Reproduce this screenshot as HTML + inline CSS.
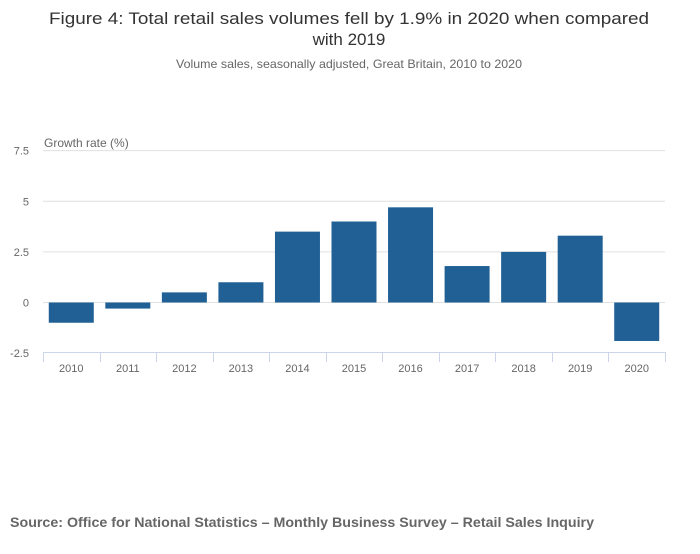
<!DOCTYPE html>
<html><head><meta charset="utf-8"><style>
body{margin:0;background:#fff;width:700px;height:549px;overflow:hidden;font-family:"Liberation Sans",sans-serif;}
</style></head><body>
<svg width="700" height="549" xmlns="http://www.w3.org/2000/svg">
<text x="349" y="24" text-anchor="middle" font-size="17" fill="#333" textLength="600" lengthAdjust="spacingAndGlyphs">Figure 4: Total retail sales volumes fell by 1.9% in 2020 when compared</text>
<text x="349" y="45" text-anchor="middle" font-size="17" fill="#333">with 2019</text>
<text x="349" y="68" text-anchor="middle" font-size="12" fill="#666" textLength="346" lengthAdjust="spacingAndGlyphs">Volume sales, seasonally adjusted, Great Britain, 2010 to 2020</text>
<text x="44" y="147" font-size="12" fill="#666">Growth rate (%)</text>
<g id="grid"></g><g id="bars"></g><g id="xaxis"></g>
<text x="10" y="527" font-size="14" font-weight="bold" fill="#666" textLength="584" lengthAdjust="spacingAndGlyphs">Source: Office for National Statistics – Monthly Business Survey – Retail Sales Inquiry</text>
</svg>
<script>
const categories=["2010","2011","2012","2013","2014","2015","2016","2017","2018","2019","2020"];
const values=[-1.0,-0.3,0.5,1.0,3.5,4.0,4.7,1.8,2.5,3.3,-1.9];
const yTicks=[-2.5,0,2.5,5,7.5];
const yTickLabels=["-2.5","0","2.5","5","7.5"];
const NS="http://www.w3.org/2000/svg";
const x0=43,x1=665,yZero=302.5,pxPerUnit=20.25;
const y=v=>yZero-v*pxPerUnit;
const band=(x1-x0)/categories.length;
function mk(tag,attrs,parent){const e=document.createElementNS(NS,tag);for(const k in attrs)e.setAttribute(k,attrs[k]);parent.appendChild(e);return e;}
const grid=document.getElementById('grid'),bars=document.getElementById('bars'),xa=document.getElementById('xaxis');
yTicks.forEach((t,i)=>{
  if(t!==-2.5){const l=mk('line',{x1:x0,x2:x1,y1:y(t),y2:y(t),stroke:'#e0e0e0','stroke-width':1},grid);
  
  }
  const tx=mk('text',{x:29,y:y(t)+4,'text-anchor':'end','font-size':11,fill:'#666'},grid);
  tx.textContent=yTickLabels[i];
  
  
});
values.forEach((v,i)=>{
  const bw=45,bx=x0+band*i+(band-bw)/2;
  const r=mk('rect',{x:bx,y:Math.min(y(v),yZero),width:bw,height:Math.abs(y(v)-yZero),fill:'#206095'},bars);
  
  
  const tx=mk('text',{x:x0+band*(i+0.5),y:372,'text-anchor':'middle','font-size':11,fill:'#666'},xa);
  tx.textContent=categories[i];
  
  
});
const ax=mk('line',{x1:x0,x2:x1+1,y1:352.5,y2:352.5,stroke:'#ccd6eb','stroke-width':1},xa);


for(let i=0;i<=categories.length;i++){const xx=Math.round(x0+band*i)+0.5;
  const tk=mk('line',{x1:xx,x2:xx,y1:352,y2:362,stroke:'#ccd6eb','stroke-width':1},xa);
  
  }
</script>
</body></html>
